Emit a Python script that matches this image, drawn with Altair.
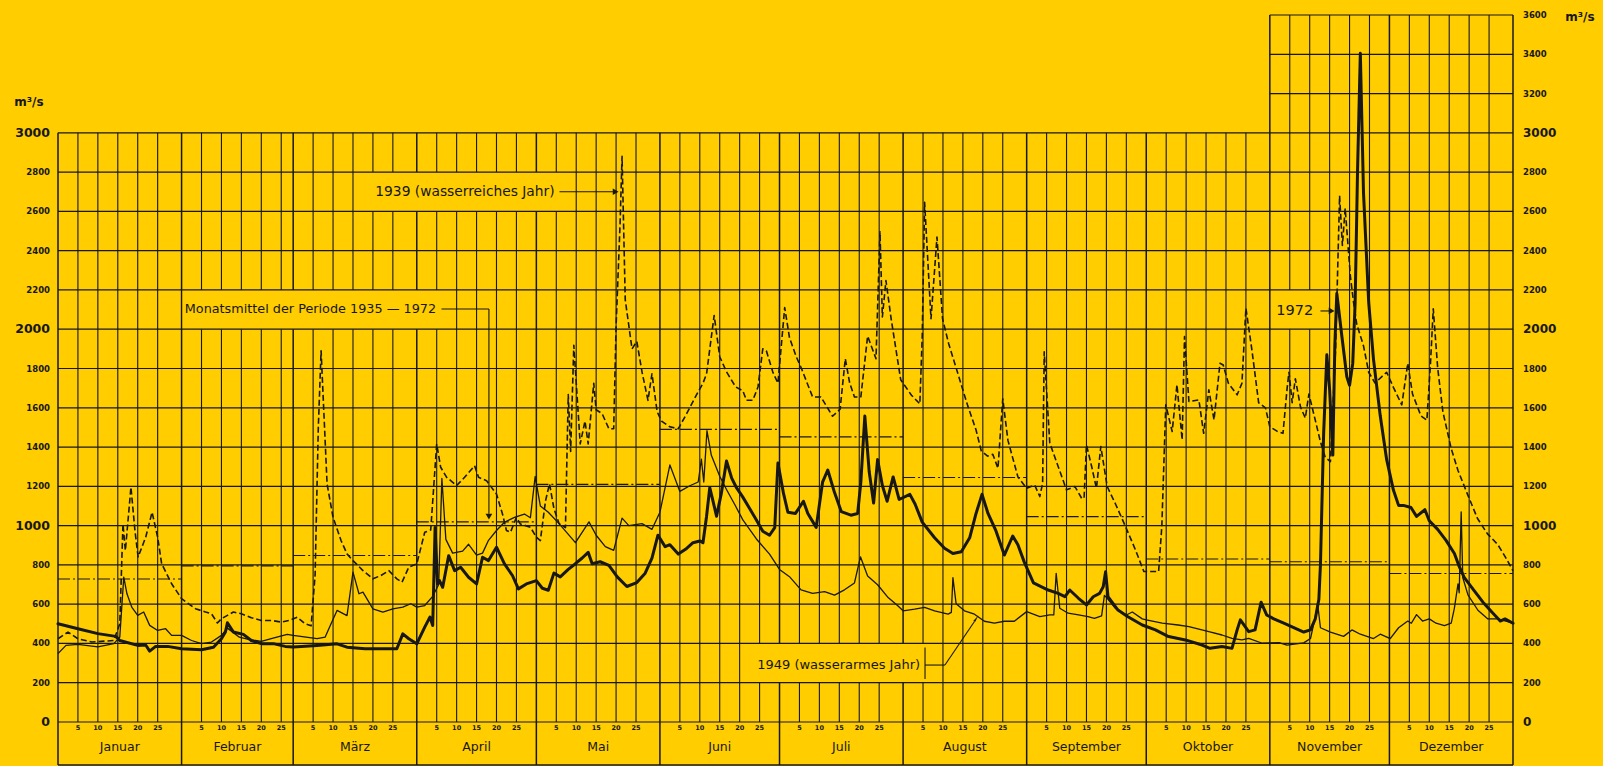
import altair as alt
import pandas as pd

INK = "#171717"
PAPER = "#FFCD00"
FONT = "DejaVu Sans"

W, H = 1455, 707     # plot area covers 0 … 3600 m³/s
STRIP = 43           # depth of the month strip under the zero line, px

MONTHS = ["Januar", "Februar", "März", "April", "Mai", "Juni",
          "Juli", "August", "September", "Oktober", "November", "Dezember"]
MONTH_DAYS = [31, 28, 31, 30, 31, 30, 31, 31, 30, 31, 30, 31]
DAY_MARKS = [5, 10, 15, 20, 25]
LEFT_TICKS = list(range(0, 3001, 200))
RIGHT_TICKS = list(range(0, 3601, 200))

# Monatsmittel der Periode 1935-1972 (m³/s)
MEAN_1935_1972 = [728, 795, 848, 1019, 1210, 1490, 1452, 1245, 1046, 830, 816, 756]

# Tagesabfluss: (Monat 0-11, Tag im Monat, m³/s)
Q_1939 = [
    (0, 0, 424), (0, 2.5, 458), (0, 5, 424), (0, 8.5, 407), (0, 14, 415), (0, 15.5, 500),
    (0, 16.3, 1009), (0, 16.9, 873), (0, 18.3, 1196), (0, 19.3, 975), (0, 20.1, 840),
    (0, 22, 941), (0, 23.6, 1068), (0, 25, 941), (0, 26, 806), (0, 28.5, 704),
    (1, 0, 628), (1, 3.5, 577), (1, 6, 560), (1, 7.5, 551), (1, 9, 504), (1, 10, 526),
    (1, 11.5, 543), (1, 13, 560), (1, 15, 551), (1, 17.5, 531), (1, 20, 517), (1, 22.5, 517),
    (1, 25, 509), (1, 27, 517),
    (2, 1, 534), (2, 3, 500), (2, 4.5, 490), (2, 5.5, 750), (2, 6.3, 1500), (2, 7, 1890),
    (2, 8.5, 1212), (2, 10, 1042), (2, 12, 924), (2, 13.5, 856), (2, 15, 822), (2, 17.5, 771),
    (2, 20, 729), (2, 22, 746), (2, 24, 771), (2, 26, 729), (2, 27.3, 712), (2, 29, 788),
    (3, 0, 805), (3, 2, 966), (3, 3.5, 978), (3, 5, 1415), (3, 6, 1297), (3, 7.5, 1246),
    (3, 10, 1204), (3, 12, 1246), (3, 14.5, 1305), (3, 15.5, 1246), (3, 17.5, 1229),
    (3, 20, 1161), (3, 21.5, 1059), (3, 22.5, 975), (3, 23.5, 966), (3, 25, 1042),
    (3, 26, 1008), (3, 28.5, 992),
    (4, 0, 941), (4, 1, 924), (4, 2.3, 1126), (4, 3.3, 1213), (4, 4.4, 1087), (4, 5.7, 1010),
    (4, 7.3, 990), (4, 8, 1667), (4, 8.6, 1377), (4, 9.4, 1918), (4, 11, 1416), (4, 12.2, 1532),
    (4, 13, 1416), (4, 14.4, 1725), (4, 15, 1590), (4, 16.5, 1570), (4, 18.2, 1493),
    (4, 19.4, 1493), (4, 20, 2015), (4, 21, 2537), (4, 21.5, 2880), (4, 22.3, 2150),
    (4, 24, 1900), (4, 25.2, 1938), (4, 26.5, 1783), (4, 28, 1638), (4, 29, 1773),
    (4, 30.3, 1580),
    (5, 0.4, 1532), (5, 2.5, 1503), (5, 4.6, 1493), (5, 6.7, 1570), (5, 9.2, 1667),
    (5, 10.8, 1725), (5, 11.7, 1773), (5, 13.6, 2070), (5, 15, 1860), (5, 16.7, 1783),
    (5, 19, 1706), (5, 20.8, 1687), (5, 21.7, 1638), (5, 23.3, 1638), (5, 24.6, 1706),
    (5, 25.8, 1900), (5, 26.7, 1890), (5, 28.3, 1783), (5, 29.6, 1725),
    (6, 0.2, 1860), (6, 1.3, 2110), (6, 2.5, 1957), (6, 4.2, 1860), (6, 5.4, 1805),
    (6, 8.3, 1655), (6, 10.4, 1655), (6, 13.3, 1557), (6, 15.2, 1593), (6, 16.5, 1850),
    (6, 17.6, 1726), (6, 18.8, 1655), (6, 20.4, 1655), (6, 22.1, 1965), (6, 24.2, 1850),
    (6, 25.2, 2496), (6, 25.8, 2062), (6, 26.7, 2248), (6, 28, 2053), (6, 30.4, 1743),
    (7, 2.1, 1664), (7, 4.2, 1620), (7, 4.8, 1965), (7, 5.4, 2646), (7, 7, 2053),
    (7, 8.5, 2469), (7, 9.9, 2053), (7, 11.4, 1929), (7, 13.8, 1770), (7, 16.2, 1611),
    (7, 18.3, 1487), (7, 19.6, 1381), (7, 21.2, 1354), (7, 22.5, 1363), (7, 23.8, 1292),
    (7, 25, 1646), (7, 26.3, 1434), (7, 28.8, 1248),
    (8, 0, 1190), (8, 2, 1207), (8, 3.3, 1148), (8, 4, 1216), (8, 4.4, 1885), (8, 5.8, 1420),
    (8, 7.9, 1301), (8, 10, 1182), (8, 12.1, 1199), (8, 13.8, 1139), (8, 14.4, 1139),
    (8, 15, 1411), (8, 16.3, 1301), (8, 17.5, 1190), (8, 18.6, 1403), (8, 20.2, 1199),
    (8, 22.2, 1114), (8, 24.8, 995), (8, 27.3, 876), (8, 29.4, 766),
    (9, 0.7, 766), (9, 3.1, 766), (9, 3.9, 995), (9, 4.9, 1615), (9, 6.5, 1479),
    (9, 7.7, 1717), (9, 9, 1437), (9, 9.6, 1963), (9, 10.7, 1632), (9, 13.2, 1640),
    (9, 14.4, 1470), (9, 15.7, 1691), (9, 17, 1538), (9, 18.5, 1827), (9, 19.3, 1818),
    (9, 20.6, 1725), (9, 22.8, 1666), (9, 24, 1725), (9, 25, 2107), (9, 26.5, 1895),
    (9, 28.2, 1625), (9, 29.9, 1600),
    (10, 0, 1503), (10, 1.8, 1481), (10, 3.3, 1470), (10, 4.3, 1692), (10, 4.8, 1781),
    (10, 5.6, 1626), (10, 6.4, 1748), (10, 7.7, 1603), (10, 8.9, 1548), (10, 9.8, 1670),
    (10, 11.4, 1537), (10, 12.7, 1426), (10, 13.9, 1348), (10, 15.2, 1326), (10, 16.5, 1900),
    (10, 17.5, 2680), (10, 18.2, 2426), (10, 18.9, 2615), (10, 20.2, 2271), (10, 21, 2137),
    (10, 21.8, 2026), (10, 23.5, 1915), (10, 24.8, 1781), (10, 26.4, 1726), (10, 28.1, 1759),
    (10, 29.3, 1781),
    (11, 1, 1704), (11, 3.1, 1615), (11, 4.6, 1826), (11, 5.8, 1670), (11, 7.9, 1559),
    (11, 9.4, 1537), (11, 10.3, 1826), (11, 11, 2104), (11, 12.1, 1804), (11, 13.4, 1581),
    (11, 15.5, 1392), (11, 17.2, 1281), (11, 19.6, 1159), (11, 22.1, 1036), (11, 24.6, 958),
    (11, 27.2, 903), (11, 29.2, 836), (11, 31, 770),
]

Q_1949 = [
    (0, 0, 348), (0, 2, 390), (0, 5, 395), (0, 10, 382), (0, 14, 399), (0, 15.5, 432),
    (0, 16.5, 738), (0, 17.3, 653), (0, 18.5, 585), (0, 20, 543), (0, 21.5, 560),
    (0, 23, 492), (0, 25, 466), (0, 27, 475), (0, 28.5, 441),
    (1, 0, 441), (1, 2.5, 415), (1, 5, 399), (1, 7.5, 407), (1, 10, 441), (1, 11.5, 478),
    (1, 14.5, 432), (1, 17, 420), (1, 20, 410), (1, 22.5, 424), (1, 26.5, 446),
    (2, 0, 441), (2, 6, 424), (2, 8, 432), (2, 9.5, 500), (2, 11, 568), (2, 13.5, 542),
    (2, 15, 763), (2, 16.5, 653), (2, 17.5, 661), (2, 20, 576), (2, 22.5, 559), (2, 25, 576),
    (2, 27.5, 585), (2, 29.5, 602),
    (3, 0, 585), (3, 2, 593), (3, 4, 640), (3, 5.5, 700), (3, 6.3, 1240), (3, 7.3, 930),
    (3, 9, 860), (3, 11.5, 870), (3, 13, 905), (3, 15, 850), (3, 16.5, 860), (3, 18, 925),
    (3, 20, 975), (3, 22, 1017), (3, 24.5, 1042), (3, 27, 1059), (3, 28.5, 1040),
    (3, 29.7, 1250),
    (4, 1, 1100), (4, 3, 1068), (4, 5.7, 1010), (4, 9.8, 913), (4, 13.2, 1019), (4, 15, 951),
    (4, 17.3, 893), (4, 19.4, 874), (4, 21.5, 1038), (4, 23.2, 1000), (4, 26.5, 1010),
    (4, 29, 981),
    (5, 0, 1068), (5, 2.5, 1309), (5, 5, 1174), (5, 7.5, 1203), (5, 9.6, 1222),
    (5, 10.4, 1338), (5, 11, 1222), (5, 11.8, 1483), (5, 12.9, 1358), (5, 15, 1251),
    (5, 16.7, 1184), (5, 18.8, 1106), (5, 20.8, 1029), (5, 24.2, 932), (5, 27.5, 855),
    (6, 0, 777), (6, 2.5, 740), (6, 5.4, 673), (6, 8.3, 655), (6, 11.3, 664), (6, 13.8, 646),
    (6, 16.3, 673), (6, 18.8, 708), (6, 20.3, 841), (6, 22.1, 743), (6, 24.6, 699),
    (6, 27.1, 637), (6, 29.6, 593),
    (7, 0, 566), (7, 2.9, 575), (7, 5.4, 584), (7, 7.9, 566), (7, 11.3, 549), (7, 12.1, 558),
    (7, 12.5, 735), (7, 13.3, 602), (7, 15.4, 566), (7, 17.9, 549), (7, 20.4, 513),
    (7, 22.9, 504), (7, 25.4, 513), (7, 27.9, 513),
    (8, 0, 562), (8, 3.3, 537), (8, 5.8, 545), (8, 6.8, 545), (8, 7.4, 757), (8, 8.3, 579),
    (8, 10.4, 554), (8, 13, 545), (8, 15.4, 537), (8, 17, 528), (8, 18.8, 540),
    (8, 19.5, 645), (8, 20.2, 630), (8, 22.2, 580), (8, 25, 545), (8, 26.5, 560), (8, 29, 525),
    (9, 0, 520), (9, 4, 503), (9, 8, 494), (9, 10.7, 486), (9, 15.7, 460), (9, 19, 443),
    (9, 21.5, 426), (9, 24, 418), (9, 25.7, 426), (9, 29.1, 401),
    (10, 2.3, 404), (10, 4.3, 391), (10, 8.5, 403), (10, 10.2, 425), (10, 11.4, 536),
    (10, 12, 600), (10, 12.7, 480), (10, 15.2, 458), (10, 18.5, 436), (10, 20.6, 469),
    (10, 22.7, 447), (10, 26, 425), (10, 27.7, 447),
    (11, 0.2, 425), (11, 2.3, 480), (11, 4.6, 514), (11, 5.5, 503), (11, 6.8, 547),
    (11, 8.3, 514), (11, 10, 525), (11, 11.7, 503), (11, 13.8, 491), (11, 15.5, 503),
    (11, 16.3, 580), (11, 17.2, 703), (11, 17.5, 658), (11, 18, 1070), (11, 18.4, 736),
    (11, 19.7, 647), (11, 22.2, 569), (11, 24.7, 525), (11, 27.2, 525), (11, 29.2, 514),
    (11, 31, 503),
]

Q_1972 = [
    (0, 0, 500), (0, 5, 475), (0, 10, 450), (0, 14.5, 436), (0, 15.5, 415), (0, 20, 390),
    (0, 22, 392), (0, 23, 361), (0, 24.5, 385), (0, 27.5, 385),
    (1, 0, 373), (1, 5, 368), (1, 8, 381), (1, 10, 424), (1, 11, 458), (1, 11.5, 505),
    (1, 13, 458), (1, 15.5, 446), (1, 17.5, 415), (1, 20, 399), (1, 23, 399), (1, 26, 385),
    (2, 0, 382), (2, 6, 390), (2, 11, 398), (2, 13.5, 381), (2, 18, 373), (2, 23, 373),
    (2, 26, 373), (2, 27.5, 449), (2, 29, 424),
    (3, 0, 398), (3, 2, 483), (3, 3.3, 534), (3, 4, 491), (3, 4.6, 990), (3, 5.2, 703),
    (3, 5.7, 720), (3, 6.5, 686), (3, 8, 847), (3, 9.5, 771), (3, 11, 788), (3, 13, 737),
    (3, 15, 703), (3, 16.5, 839), (3, 18, 822), (3, 20, 890), (3, 22, 805), (3, 24, 746),
    (3, 25.5, 678), (3, 27.5, 703),
    (4, 0, 720), (4, 1.5, 681), (4, 3, 671), (4, 4.4, 758), (4, 6, 739), (4, 8, 777),
    (4, 9.8, 806), (4, 11.5, 835), (4, 13, 864), (4, 14, 806), (4, 16, 816), (4, 18.2, 797),
    (4, 20.3, 739), (4, 22.7, 690), (4, 25.2, 710), (4, 27.3, 758), (4, 29, 835),
    (4, 30.5, 951),
    (5, 1.3, 893), (5, 2.5, 903), (5, 4.6, 855), (5, 6.7, 884), (5, 8.3, 913), (5, 10, 922),
    (5, 10.8, 913), (5, 11.7, 1048), (5, 12.5, 1193), (5, 13.3, 1126), (5, 14.2, 1048),
    (5, 15.4, 1164), (5, 16.7, 1329), (5, 18, 1242), (5, 19.2, 1193), (5, 20.8, 1145),
    (5, 22.5, 1087), (5, 24.2, 1029), (5, 25.8, 971), (5, 27.5, 951), (5, 28.8, 990),
    (5, 29.6, 1319),
    (6, 1, 1164), (6, 2.1, 1068), (6, 4, 1062), (6, 6, 1124), (6, 7.1, 1062), (6, 9.2, 991),
    (6, 10.8, 1221), (6, 12.1, 1283), (6, 13.8, 1168), (6, 15.5, 1071), (6, 17.9, 1053),
    (6, 19.6, 1062), (6, 20.4, 1221), (6, 21.4, 1558), (6, 22.5, 1274), (6, 23.6, 1115),
    (6, 24.6, 1336), (6, 25.8, 1204), (6, 27, 1124), (6, 28.5, 1248), (6, 30, 1133),
    (7, 1.7, 1159), (7, 3, 1110), (7, 4.8, 1018), (7, 7.9, 938), (7, 10.4, 885),
    (7, 12.5, 858), (7, 14.6, 867), (7, 16.7, 938), (7, 18.3, 1062), (7, 19.8, 1159),
    (7, 21.3, 1062), (7, 23.3, 973), (7, 25.4, 850), (7, 27.5, 947), (7, 28.8, 903),
    (7, 30.4, 814),
    (8, 1.7, 708), (8, 5.4, 672), (8, 7.9, 655), (8, 9.6, 638), (8, 10.8, 672), (8, 13, 630),
    (8, 15, 596), (8, 16.7, 638), (8, 18.3, 655), (8, 19.2, 689), (8, 19.8, 765),
    (8, 20.4, 638), (8, 22.9, 570), (8, 25.3, 537), (8, 29, 494),
    (9, 2.3, 469), (9, 5.6, 435), (9, 9.8, 418), (9, 14, 392), (9, 16, 375), (9, 19, 384),
    (9, 21.5, 375), (9, 22.8, 469), (9, 23.6, 520), (9, 25.7, 460), (9, 27.3, 469),
    (9, 28.8, 610), (9, 30.2, 545),
    (10, 1, 525), (10, 3.5, 503), (10, 6, 480), (10, 8.5, 458), (10, 10.2, 469),
    (10, 11.4, 525), (10, 12.3, 625), (10, 12.7, 803), (10, 13.5, 1470), (10, 14.3, 1870),
    (10, 15, 1692), (10, 15.8, 1359), (10, 16.3, 1915), (10, 16.8, 2182), (10, 18.1, 1959),
    (10, 19.3, 1759), (10, 20, 1715), (10, 20.8, 1826), (10, 21.4, 2137), (10, 22, 2804),
    (10, 22.7, 3405), (10, 23.5, 2693), (10, 24.8, 2137), (10, 26, 1848), (10, 27.7, 1559),
    (10, 29.3, 1337),
    (11, 1, 1181), (11, 2.3, 1103), (11, 3.5, 1103), (11, 5.4, 1092), (11, 6.8, 1047),
    (11, 8.9, 1081), (11, 10, 1025), (11, 12.1, 981), (11, 14.2, 925), (11, 16.3, 858),
    (11, 17.5, 792), (11, 18.75, 736), (11, 21.25, 669), (11, 23.75, 603), (11, 25.8, 558),
    (11, 27.8, 514), (11, 29, 525), (11, 31, 503),
]

MONTH_START = [sum(MONTH_DAYS[:i]) for i in range(12)]
YEAR_DAYS = sum(MONTH_DAYS)
NOV = MONTH_START[10]

# annotation anchors in chart units (day of year, m³/s)
LABELS = [
    {"text": "1939 (wasserreiches Jahr)", "t": 79.6, "q": 2700, "size": 13.8},
    {"text": "Monatsmittel der Periode 1935 — 1972", "t": 31.8, "q": 2103, "size": 12.8},
    {"text": "1972", "t": 305.6, "q": 2093, "size": 14.5},
    {"text": "1949 (wasserarmes Jahr)", "t": 175.4, "q": 288, "size": 13},
]
LABEL_BOXES = [
    {"t0": 77.2, "t1": 125.5, "q0": 2600, "q1": 2800},
    {"t0": 31.3, "t1": 95.6, "q0": 2000, "q1": 2200},
    {"t0": 304.3, "t1": 318.6, "q0": 2000, "q1": 2200},
    {"t0": 171.3, "t1": 217.5, "q0": 200, "q1": 400},
]
LEADERS = [
    {"t": 125.8, "q": 2700, "t2": 139.2, "q2": 2700},
    {"t": 96.2, "q": 2103, "t2": 108.1, "q2": 2103},
    {"t": 108.1, "q": 2103, "t2": 108.1, "q2": 1060},
    {"t": 316.7, "q": 2093, "t2": 319.0, "q2": 2093},
    {"t": 217.5, "q": 219, "t2": 217.5, "q2": 379},
    {"t": 217.5, "q": 290, "t2": 222.5, "q2": 290},
    {"t": 222.5, "q": 290, "t2": 229.9, "q2": 512},
]
ARROW_HEADS = [
    {"t": 139.9, "q": 2700, "shape": "triangle-right", "angle": 0},
    {"t": 108.1, "q": 1046, "shape": "triangle-down", "angle": 0},
    {"t": 319.5, "q": 2093, "shape": "triangle-right", "angle": 0},
    {"t": 230.2, "q": 522, "shape": "wedge", "angle": 35},
]


def daily(rows, year):
    return pd.DataFrame({
        "t": [MONTH_START[m] + d for m, d, _ in rows],
        "q": [q for _, _, q in rows],
        "i": list(range(len(rows))),
        "year": year,
    })


xs = alt.Scale(domain=[0, YEAR_DAYS], nice=False, zero=False)
ys = alt.Scale(domain=[0, 3600], nice=False, zero=False)


def X(f):
    return alt.X(f, type="quantitative", scale=xs, axis=None)


def Y(f):
    return alt.Y(f, type="quantitative", scale=ys, axis=None)


# grid
v_minor = pd.DataFrame(
    [(MONTH_START[m] + d, 3600 if m >= 10 else 3000) for m in range(12) for d in DAY_MARKS],
    columns=["t", "top"]).assign(bottom=0)
bounds = MONTH_START + [YEAR_DAYS]
v_months = pd.DataFrame({"t": bounds, "top": [3600 if b >= NOV else 3000 for b in bounds]})
h_grid = pd.DataFrame({"q": RIGHT_TICKS,
                       "t0": [0 if v <= 3000 else NOV for v in RIGHT_TICKS],
                       "t1": YEAR_DAYS})
strip = pd.DataFrame({"t0": [0], "t1": [YEAR_DAYS]})

grid_minor = alt.Chart(v_minor).mark_rule(color=INK, strokeWidth=1.1).encode(
    x=X("t"), y=Y("top"), y2="bottom")
grid_months = alt.Chart(v_months).mark_rule(color=INK, strokeWidth=1.5).encode(
    x=X("t"), y=Y("top"), y2=alt.value(H + STRIP))
boxes = alt.Chart(pd.DataFrame(LABEL_BOXES)).mark_rect(fill=PAPER).encode(
    x=X("t0"), x2="t1", y=Y("q0"), y2="q1")
grid_h = alt.Chart(h_grid).mark_rule(color=INK, strokeWidth=1.2).encode(
    x=X("t0"), x2="t1", y=Y("q"))
strip_base = alt.Chart(strip).mark_rule(color=INK, strokeWidth=1.5).encode(
    x=X("t0"), x2="t1", y=alt.value(H + STRIP))

# monthly means
means = pd.DataFrame({"t0": MONTH_START,
                      "t1": [s + n for s, n in zip(MONTH_START, MONTH_DAYS)],
                      "q": MEAN_1935_1972})
mean_rules = alt.Chart(means).mark_rule(color=INK, strokeWidth=1.1,
                                        strokeDash=[12, 3, 2, 3]).encode(
    x=X("t0"), x2="t1", y=Y("q"))

# daily series
line_1939 = alt.Chart(daily(Q_1939, "1939")).mark_line(
    color=INK, strokeWidth=1.6, strokeDash=[6, 3], strokeJoin="round").encode(
    x=X("t"), y=Y("q"), order="i")
line_1949 = alt.Chart(daily(Q_1949, "1949")).mark_line(
    color=INK, strokeWidth=1.3, strokeJoin="round").encode(
    x=X("t"), y=Y("q"), order="i")
line_1972 = alt.Chart(daily(Q_1972, "1972")).mark_line(
    color=INK, strokeWidth=3.0, strokeJoin="round", strokeCap="round").encode(
    x=X("t"), y=Y("q"), order="i")

# axis labels
def tick_frame(values, major):
    return pd.DataFrame({"q": [v for v in values if (v % 1000 == 0) == major],
                         "label": [str(v) for v in values if (v % 1000 == 0) == major]})


left_major = alt.Chart(tick_frame(LEFT_TICKS, True)).mark_text(
    font=FONT, fontSize=12.5, fontWeight="bold", color=INK, align="right", baseline="middle").encode(
    x=alt.value(-8), y=Y("q"), text="label")
left_minor = alt.Chart(tick_frame(LEFT_TICKS, False)).mark_text(
    font=FONT, fontSize=8.5, fontWeight="bold", color=INK, align="right", baseline="middle").encode(
    x=alt.value(-8), y=Y("q"), text="label")
right_major = alt.Chart(tick_frame(RIGHT_TICKS, True)).mark_text(
    font=FONT, fontSize=12, fontWeight="bold", color=INK, align="left", baseline="middle").encode(
    x=alt.value(W + 10), y=Y("q"), text="label")
right_minor = alt.Chart(tick_frame(RIGHT_TICKS, False)).mark_text(
    font=FONT, fontSize=8.5, fontWeight="bold", color=INK, align="left", baseline="middle").encode(
    x=alt.value(W + 10), y=Y("q"), text="label")

unit_df = pd.DataFrame({"label": ["m³/s"]})
unit_left = alt.Chart(unit_df).mark_text(
    font=FONT, fontSize=12, fontWeight="bold", color=INK, align="center", baseline="middle").encode(
    x=alt.value(-29), y=alt.value(87), text="label")
unit_right = alt.Chart(unit_df).mark_text(
    font=FONT, fontSize=12, fontWeight="bold", color=INK, align="center", baseline="middle").encode(
    x=alt.value(W + 67), y=alt.value(2), text="label")

day_labels = pd.DataFrame([(MONTH_START[m] + d, str(d)) for m in range(12) for d in DAY_MARKS],
                          columns=["t", "label"])
days = alt.Chart(day_labels).mark_text(
    font=FONT, fontSize=6.5, fontWeight="bold", color=INK, baseline="middle").encode(
    x=X("t"), y=alt.value(H + 6), text="label")
month_labels = pd.DataFrame({"t": [s + n / 2 for s, n in zip(MONTH_START, MONTH_DAYS)],
                             "label": MONTHS})
months = alt.Chart(month_labels).mark_text(
    font=FONT, fontSize=12.5, color=INK, baseline="middle").encode(
    x=X("t"), y=alt.value(H + 25), text="label")

# annotations
label_layers = [
    alt.Chart(pd.DataFrame([lab])).mark_text(
        font=FONT, fontSize=lab["size"], color=INK, align="left", baseline="middle").encode(
        x=X("t"), y=Y("q"), text="text")
    for lab in LABELS
]
leaders = alt.Chart(pd.DataFrame(LEADERS)).mark_rule(color=INK, strokeWidth=1.1).encode(
    x=X("t"), x2="t2", y=Y("q"), y2="q2")
heads = [
    alt.Chart(pd.DataFrame([a])).mark_point(
        shape=a["shape"], angle=a["angle"], filled=True, color=INK, opacity=1,
        size=45 if a["shape"] != "wedge" else 70).encode(x=X("t"), y=Y("q"))
    for a in ARROW_HEADS
]

chart = alt.layer(
    grid_minor, grid_months, boxes, grid_h, strip_base, mean_rules,
    line_1939, line_1949, line_1972,
    left_major, left_minor, right_major, right_minor, unit_left, unit_right,
    days, months, leaders, *heads, *label_layers,
).properties(
    width=W, height=H, background=PAPER,
    padding={"left": 58, "right": 90, "top": 15, "bottom": 44},
    autosize=alt.AutoSizeParams(type="none"),
).configure_view(stroke=None)

chart.save("out.html", embed_options={"renderer": "svg", "actions": False})
